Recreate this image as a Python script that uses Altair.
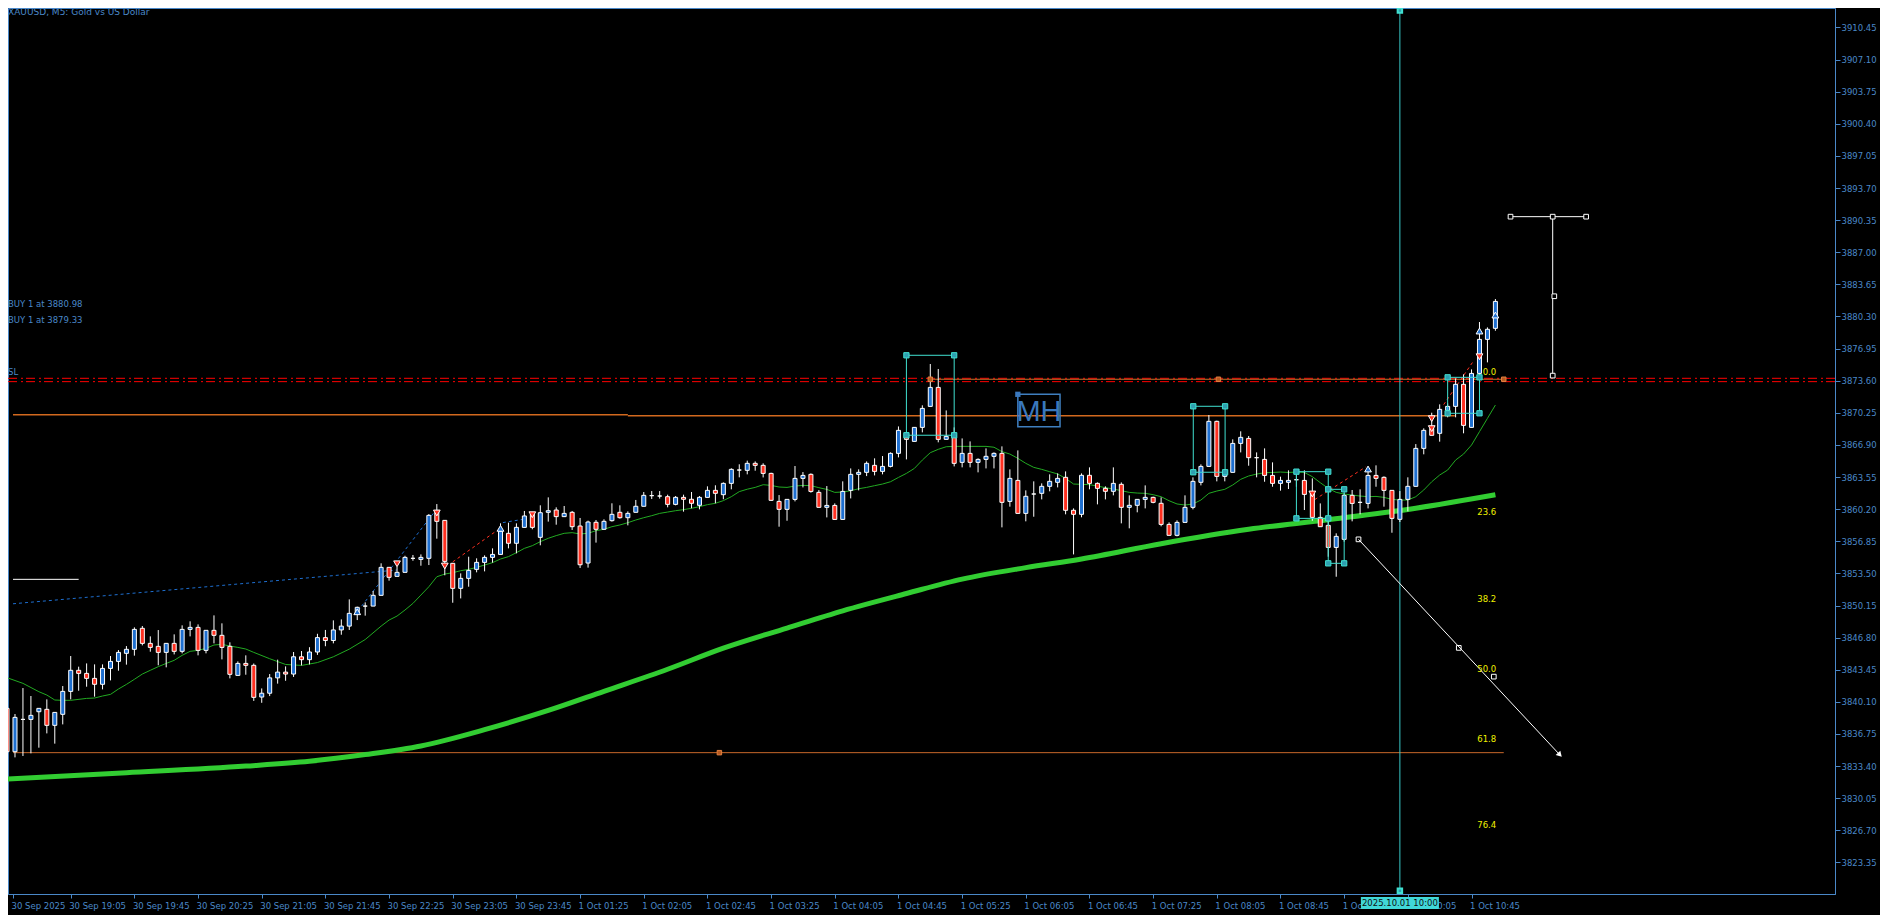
import altair as alt
import pandas as pd

# ---------------- data ----------------
opens = [3839.42,3834.90,3838.27,3838.27,3839.07,3839.32,3837.65,3838.80,3841.19,3843.39,
         3843.07,3842.55,3841.93,3843.59,3844.32,3845.16,3845.58,3847.77,3846.20,3845.89,
         3845.26,3846.20,3845.37,3847.66,3847.87,3845.47,3847.56,3847.04,3845.89,3842.86,
         3844.11,3843.91,3840.60,3841.00,3842.60,3843.20,3843.00,3844.80,3844.50,3845.30,
         3846.80,3846.50,3847.60,3848.00,3849.33,3850.09,3850.09,3851.21,3854.13,3853.19,
         3853.61,3855.07,3854.96,3855.07,3859.97,3859.03,3854.55,3851.94,3852.98,3853.92,
         3854.65,3855.17,3855.48,3857.68,3856.64,3858.30,3859.70,3857.26,3859.87,3860.11,
         3859.42,3859.87,3858.44,3854.58,3858.83,3858.10,3859.00,3859.87,3859.31,3859.87,
         3860.50,3861.61,3861.57,3861.50,3860.70,3861.43,3861.23,3860.60,3861.43,3862.16,
         3861.71,3862.89,3864.28,3864.25,3864.98,3864.77,3863.93,3861.01,3860.18,3861.22,
         3863.41,3863.83,3861.95,3860.39,3860.59,3859.13,3862.16,3863.83,3864.04,3864.77,
         3864.14,3864.66,3866.02,3868.10,3867.27,3868.73,3870.92,3872.90,3867.48,3867.90,
         3865.08,3866.02,3865.08,3865.39,3865.71,3866.02,3861.01,3863.20,3859.76,3861.78,
         3861.85,3862.58,3863.00,3863.52,3860.08,3859.66,3863.73,3862.89,3862.37,3862.06,
         3862.79,3860.39,3860.60,3861.22,3861.43,3860.81,3858.61,3857.47,3858.82,3860.39,
         3863.00,3864.66,3869.36,3863.62,3864.04,3867.06,3867.58,3865.57,3865.39,3863.72,
         3862.89,3863.00,3863.27,3863.20,3861.85,3859.34,3858.51,3856.21,3857.05,3861.64,
         3860.91,3860.80,3863.72,3863.52,3862.16,3859.14,3861.22,3862.58,3866.54,3868.63,
         3868.11,3870.50,3870.92,3873.22,3868.73,3874.36,3877.91,3879.06]
highs = [3839.60,3838.83,3841.54,3840.71,3839.42,3840.36,3839.00,3841.75,3844.88,3843.77,
         3844.11,3844.01,3844.01,3844.88,3845.50,3845.92,3847.87,3848.01,3846.93,3847.59,
         3846.20,3847.14,3848.08,3848.50,3848.18,3847.56,3849.12,3848.29,3846.31,3844.32,
         3844.95,3844.10,3841.50,3843.00,3844.50,3843.80,3845.30,3845.40,3845.80,3847.20,
         3847.60,3848.60,3848.70,3850.79,3850.03,3850.48,3851.66,3854.55,3854.13,3854.20,
         3855.34,3855.42,3855.48,3859.69,3860.73,3859.03,3854.55,3853.50,3855.24,3855.07,
         3855.38,3856.11,3858.72,3858.79,3858.72,3860.01,3859.90,3860.60,3861.43,3860.39,
         3860.53,3860.01,3859.28,3859.00,3859.07,3859.14,3860.81,3860.60,3859.97,3861.16,
         3861.99,3862.09,3862.09,3861.71,3861.57,3861.71,3861.99,3861.57,3862.58,3862.69,
         3862.99,3864.46,3864.88,3865.26,3865.18,3864.98,3864.00,3861.67,3861.22,3864.70,
         3864.07,3863.93,3862.19,3862.61,3860.80,3863.10,3864.45,3864.35,3865.18,3865.50,
         3865.74,3866.12,3868.83,3868.17,3868.73,3871.03,3875.34,3874.82,3870.50,3868.73,
         3867.58,3867.27,3865.50,3866.54,3866.12,3866.75,3864.35,3866.33,3862.16,3863.10,
         3862.89,3863.83,3863.93,3864.14,3860.28,3863.93,3864.56,3862.99,3862.58,3864.56,
         3862.99,3861.64,3861.22,3862.68,3861.50,3861.43,3858.82,3859.03,3861.64,3863.52,
         3864.87,3870.02,3869.43,3864.35,3867.48,3868.32,3867.83,3866.12,3866.54,3865.08,
         3863.59,3864.25,3863.76,3864.25,3863.41,3860.80,3858.93,3857.68,3861.85,3862.20,
         3862.27,3864.28,3864.77,3863.62,3862.16,3862.09,3863.52,3866.99,3868.63,3870.26,
         3871.13,3871.23,3873.84,3874.26,3874.78,3879.72,3879.16,3882.12]
lows = [3834.70,3834.31,3834.45,3834.73,3835.32,3836.81,3835.74,3837.75,3840.36,3841.26,
        3841.68,3840.64,3841.40,3842.34,3843.35,3843.98,3844.92,3845.99,3845.33,3843.91,
        3843.70,3845.05,3845.16,3846.93,3844.95,3845.16,3846.20,3844.53,3842.55,3842.86,
        3842.93,3840.20,3840.00,3840.70,3842.00,3842.30,3842.70,3843.90,3844.00,3845.00,
        3845.90,3846.20,3847.10,3847.60,3848.63,3849.09,3850.09,3851.21,3852.74,3853.19,
        3853.61,3854.82,3854.30,3854.37,3857.12,3853.30,3850.44,3850.89,3852.11,3853.61,
        3853.71,3854.62,3855.48,3856.11,3855.59,3858.30,3858.10,3856.43,3858.90,3858.58,
        3859.42,3858.03,3854.06,3854.10,3856.71,3858.03,3858.90,3859.21,3858.51,3859.87,
        3860.50,3861.26,3861.30,3860.39,3860.60,3859.94,3860.29,3860.18,3861.43,3860.81,
        3861.23,3862.27,3863.52,3863.83,3864.21,3863.51,3861.05,3858.37,3858.99,3861.01,
        3862.47,3861.92,3860.39,3859.34,3859.13,3859.13,3861.32,3862.16,3863.65,3863.72,
        3863.83,3864.56,3865.60,3865.39,3867.27,3868.21,3870.92,3867.17,3867.48,3864.66,
        3864.56,3864.56,3864.04,3864.45,3864.45,3858.30,3860.46,3859.76,3858.93,3859.41,
        3861.22,3862.06,3862.47,3859.66,3855.48,3859.35,3862.27,3860.70,3861.22,3861.64,
        3858.72,3858.20,3859.87,3860.28,3860.81,3858.41,3857.47,3857.36,3858.82,3860.18,
        3862.68,3864.66,3863.10,3863.10,3864.04,3866.12,3864.73,3863.52,3863.06,3862.54,
        3862.13,3862.30,3862.54,3860.11,3858.99,3858.37,3855.24,3853.15,3856.81,3858.93,
        3859.66,3860.28,3862.54,3860.46,3857.74,3858.86,3859.97,3862.58,3865.92,3867.90,
        3867.24,3869.78,3869.78,3868.11,3868.73,3874.19,3875.51,3878.81]
closes = [3834.90,3838.48,3838.27,3838.69,3839.42,3837.65,3839.00,3841.19,3843.39,3843.07,
          3842.55,3841.93,3843.59,3844.32,3845.26,3845.58,3847.66,3846.20,3845.78,3845.26,
          3846.20,3845.37,3847.66,3847.87,3845.47,3847.56,3847.04,3845.78,3842.97,3844.11,
          3843.91,3840.57,3841.00,3842.60,3843.20,3843.00,3844.80,3844.50,3845.30,3846.80,
          3846.50,3847.60,3848.00,3849.33,3849.96,3850.09,3851.21,3854.13,3853.09,3853.61,
          3855.17,3855.07,3855.17,3859.55,3858.93,3854.75,3851.94,3852.98,3853.81,3854.65,
          3855.17,3855.48,3857.90,3856.64,3858.30,3859.49,3858.30,3859.83,3860.04,3859.42,
          3859.76,3858.37,3854.40,3858.86,3858.10,3858.93,3859.66,3859.31,3859.76,3860.50,
          3861.64,3861.61,3861.57,3860.70,3861.43,3861.23,3860.81,3861.43,3862.16,3861.85,
          3862.89,3864.35,3864.28,3864.98,3864.77,3863.93,3861.12,3860.18,3861.22,3863.41,
          3863.72,3862.05,3860.39,3860.59,3859.13,3862.05,3863.83,3864.04,3864.98,3864.14,
          3864.66,3866.02,3868.42,3867.48,3868.73,3870.71,3872.90,3867.48,3867.79,3864.98,
          3866.02,3865.08,3865.39,3865.71,3866.02,3860.91,3863.41,3859.76,3861.54,3861.78,
          3862.58,3863.10,3863.41,3860.08,3859.66,3863.73,3862.89,3862.37,3862.06,3862.89,
          3860.39,3860.60,3861.22,3861.43,3860.91,3858.61,3857.47,3858.82,3860.39,3863.10,
          3864.66,3869.36,3863.62,3864.04,3867.06,3867.69,3865.57,3865.57,3863.72,3862.89,
          3863.20,3863.20,3863.27,3861.74,3859.34,3858.37,3856.21,3857.36,3861.64,3860.80,
          3860.91,3863.72,3863.41,3862.16,3859.24,3861.22,3862.58,3866.54,3868.42,3867.90,
          3870.61,3870.92,3873.22,3868.94,3874.36,3877.91,3878.96,3881.87]

# time labels, one every 8 bars
time_labels = ["30 Sep 2025", "30 Sep 19:05", "30 Sep 19:45", "30 Sep 20:25", "30 Sep 21:05",
               "30 Sep 21:45", "30 Sep 22:25", "30 Sep 23:05", "30 Sep 23:45", "1 Oct 01:25",
               "1 Oct 02:05", "1 Oct 02:45", "1 Oct 03:25", "1 Oct 04:05", "1 Oct 04:45",
               "1 Oct 05:25", "1 Oct 06:05", "1 Oct 06:45", "1 Oct 07:25", "1 Oct 08:05",
               "1 Oct 08:45", "1 Oct 09:25", "1 Oct 10:05", "1 Oct 10:45"]

price_ticks = [3823.35, 3826.70, 3830.05, 3833.40, 3836.75, 3840.10, 3843.45, 3846.80,
               3850.15, 3853.50, 3856.85, 3860.20, 3863.55, 3866.90, 3870.25, 3873.60,
               3876.95, 3880.30, 3883.65, 3887.00, 3890.35, 3893.70, 3897.05, 3900.40,
               3903.75, 3907.10, 3910.45]

# fast moving average (thin green)
ma_fast_idx = [0,2,4,5,6,7,8,10,11,12,13,14,15,16,17,18,19,20,21,22,23,24,25,26,27,28,29,30,31,
               33,35,37,39,41,43,45,47] + list(range(48, 188))
ma_fast_val = [3842.62,3842.03,3841.16,3840.81,3840.29,3840.26,3840.26,3840.46,3840.50,3840.71,
               3840.88,3841.44,3841.92,3842.45,3843.00,3843.39,3843.77,3844.11,3844.43,3844.95,
               3845.37,3845.47,3845.68,3846.03,3846.10,3845.92,3845.78,3845.61,3845.26,
               3844.60,3844.00,3843.90,3844.20,3844.80,3845.60,3846.60,3848.00,
               3848.63,3849.05,3849.68,3850.37,3851.24,3852.11,3853.15,3853.43,3853.57,3853.78,
               3853.92,3854.13,3854.37,3854.62,3855.00,3855.25,3855.66,3856.11,3856.39,3856.81,
               3857.16,3857.44,3857.68,3857.75,3857.61,3857.68,3857.96,3858.10,3858.37,3858.55,
               3858.79,3859.07,3859.31,3859.52,3859.76,3859.90,3860.04,3860.15,3860.29,3860.46,
               3860.67,3860.81,3861.09,3861.50,3862.03,3862.28,3862.47,3862.75,3862.68,3862.51,
               3862.47,3862.61,3862.68,3862.65,3862.44,3862.26,3861.95,3861.99,3862.12,3862.33,
               3862.47,3862.65,3862.82,3863.06,3863.51,3863.93,3864.45,3865.32,3866.09,3866.44,
               3866.71,3866.75,3866.75,3866.75,3866.75,3866.75,3866.66,3866.20,3865.95,3865.50,
               3864.98,3864.56,3864.35,3864.11,3863.87,3863.41,3862.82,3862.79,3862.75,3862.61,
               3862.44,3862.30,3862.13,3861.95,3861.88,3861.85,3861.71,3861.50,3861.08,3860.74,
               3860.63,3860.74,3861.15,3861.85,3862.09,3862.27,3862.72,3863.31,3863.66,3863.86,
               3864.00,3864.03,3864.07,3864.03,3864.07,3864.03,3863.59,3862.96,3862.37,3861.95,
               3861.78,3861.67,3861.57,3861.50,3861.53,3861.43,3861.22,3861.15,3861.15,3861.50,
               3862.20,3863.06,3863.76,3864.28,3865.32,3865.95,3866.89,3868.28,3869.67,3871.06]

# slow moving average (thick green)
ma_slow_idx = [0, 15, 30, 38, 45, 52, 60, 68, 75, 83, 90, 98, 105, 113, 120, 128, 135, 145,
               156, 166, 177, 187]
ma_slow_val = [3832.05, 3832.70, 3833.40, 3833.90, 3834.60, 3835.50, 3837.20, 3839.20, 3841.20,
               3843.50, 3845.70, 3847.80, 3849.60, 3851.40, 3852.90, 3854.10, 3855.00, 3856.60,
               3858.10, 3859.10, 3860.30, 3861.70]

# horizontal levels
sl_levels = [3873.85, 3873.50]
orange_seg_i0 = [0.75, 78.0]
orange_seg_i1 = [78.0, 181.9]
orange_seg_p = [3870.05, 3869.95]
lower_line = {"i0": 0.75, "i1": 188.05, "p": 3834.80, "handle_i": 89.5}
white_short = {"i0": 0.75, "i1": 9.0, "p": 3852.88}

# fibonacci
fib_i0, fib_i1 = 116.0, 188.05
fib_zero, fib_hundred = 3873.75, 3811.89
fib_levels = [0.0, 23.6, 38.2, 50.0, 61.8, 76.4]
fib_texts = ["0.0", "23.6", "38.2", "50.0", "61.8", "76.4"]
fib_label_i = 187.1

# trade history lines (dotted)
trade_i0 = [0.75, 44.1, 56.0, 62.3, 164.3, 180.5]
trade_p0 = [3850.33, 3849.60, 3854.70, 3858.80, 3861.20, 3871.10]
trade_i1 = [49.0, 53.6, 61.6, 65.3, 170.7, 184.2]
trade_p1 = [3853.85, 3859.80, 3858.00, 3859.20, 3864.60, 3875.60]
trade_kind = ["buy", "buy", "sell", "buy", "sell", "sell"]

# trade arrows
arrow_i = [44, 49, 54, 55, 62, 66, 164, 171, 179, 179, 185, 185, 187]
arrow_p = [3849.50, 3854.50, 3859.80, 3854.27, 3858.20, 3859.62, 3861.78, 3864.39, 3869.64,
           3868.60, 3878.78, 3876.10, 3880.45]
arrow_kind = ["buy", "sell", "sell", "sell", "buy", "sell", "sell", "buy", "sell", "sell",
              "buy", "sell", "buy"]

# cyan rectangles
rect_i0 = [113.0, 149.04, 162.0, 166.0, 181.0]
rect_i1 = [119.0, 153.04, 166.0, 168.0, 185.0]
rect_p0 = [3876.25, 3870.93, 3864.11, 3862.27, 3873.95]
rect_p1 = [3867.91, 3864.05, 3859.24, 3854.55, 3870.20]

# "MH" label box
mh_box = {"i0": 127.0, "i1": 132.3, "p0": 3872.18, "p1": 3868.80}

# white arrow tool
warrow = {"i0": 169.8, "p0": 3857.05, "i1": 195.1, "p1": 3834.57}
warrow_handles_i = [169.8, 182.4, 186.8]
warrow_handles_p = [3857.05, 3845.73, 3842.73]

# white price-range tool
wtool = {"i": 194.2, "p_top": 3890.71, "p_bot": 3874.13, "i_left": 188.9, "i_right": 198.4}
wtool_handles_i = [188.9, 194.2, 198.4, 194.4, 194.2]
wtool_handles_p = [3890.71, 3890.71, 3890.71, 3882.41, 3874.13]

cursor_i = 175
cursor_text = "2025.10.01 10:00"

buy_texts = ["BUY 1 at 3880.98", "BUY 1 at 3879.33", "SL"]
buy_prices = [3880.98, 3879.33, 3873.85]

# ---------------- styling ----------------
AXIS_BLUE = "#4a88c8"
BULL = "#4682b4"
BEAR = "#ff4500"
CYAN = "#40e0d0"
ORANGE = "#d2691e"
FONT = "DejaVu Sans"
FS = 8.5

W, H = 1827, 886
X0, X1 = 0.7497, 229.04
Y0, Y1 = 3820.057, 3912.476

XS = alt.Scale(domain=[X0, X1], nice=False, zero=False)
YS = alt.Scale(domain=[Y0, Y1], nice=False, zero=False)

label_js = "[" + ",".join("'%s'" % s for s in time_labels) + "][round(datum.value/8)]"
x_ticks = [X0] + [8 * k for k in range(1, len(time_labels))]

xaxis = alt.Axis(values=x_ticks, labelExpr=label_js, labelAlign="left", labelPadding=3,
                 tickSize=4, labelOverlap=False, labelFlush=False, grid=False,
                 labelFont=FONT, labelFontSize=FS, labelColor=AXIS_BLUE, labelOffset=-2,
                 tickColor=AXIS_BLUE, domainColor=AXIS_BLUE, labelBaseline="top")
yaxis = alt.Axis(orient="right", values=price_ticks, format=".2f", labelPadding=1,
                 tickSize=5, labelOverlap=False, labelFlush=False, grid=False,
                 labelFont=FONT, labelFontSize=FS, labelColor=AXIS_BLUE,
                 tickColor=AXIS_BLUE, domainColor=AXIS_BLUE)


def X(f):
    return alt.X(f, type="quantitative", scale=XS, axis=xaxis, title=None)


def Y(f):
    return alt.Y(f, type="quantitative", scale=YS, axis=yaxis, title=None)


# ---------------- frames ----------------
n = len(opens)
candles = pd.DataFrame({
    "i": list(range(n)), "o": opens, "h": highs, "l": lows, "c": closes,
})
candles["lo"] = candles[["o", "c"]].min(axis=1)
candles["hi"] = candles[["o", "c"]].max(axis=1)
candles["dir"] = ["bull" if c >= o else "bear" for o, c in zip(opens, closes)]

fast = pd.DataFrame({"i": ma_fast_idx, "v": ma_fast_val})
slow = pd.DataFrame({"i": ma_slow_idx, "v": ma_slow_val})

layers = []

# lower brown line and orange level
lower_df = pd.DataFrame([lower_line])
layers.append(alt.Chart(lower_df).mark_rule(color="#c8682a", strokeWidth=1).encode(
    x=X("i0"), x2="i1", y=Y("p")))
orange_df = pd.DataFrame({"i0": orange_seg_i0, "i1": orange_seg_i1, "p": orange_seg_p})
layers.append(alt.Chart(orange_df).mark_rule(color=ORANGE, strokeWidth=1.6).encode(
    x=X("i0"), x2="i1", y=Y("p")))
white_df = pd.DataFrame([white_short])
layers.append(alt.Chart(white_df).mark_rule(color="white", strokeWidth=1).encode(
    x=X("i0"), x2="i1", y=Y("p")))

# SL dash-dot lines
sl_df = pd.DataFrame({"p": sl_levels})
layers.append(alt.Chart(sl_df).mark_rule(color="#ff0000", strokeWidth=1,
                                         strokeDash=[9, 3, 2, 4]).encode(y=Y("p")))

# fib zero line
fib_df = pd.DataFrame({"i0": [fib_i0], "i1": [fib_i1], "p": [fib_zero]})
layers.append(alt.Chart(fib_df).mark_rule(color="#d0702a", strokeWidth=1).encode(
    x=X("i0"), x2="i1", y=Y("p")))

# trade lines
trade_df = pd.DataFrame({"i0": trade_i0, "p0": trade_p0, "i1": trade_i1, "p1": trade_p1,
                         "k": trade_kind})
layers.append(alt.Chart(trade_df).mark_rule(strokeWidth=1, strokeDash=[3, 3]).encode(
    x=X("i0"), y=Y("p0"), x2="i1", y2="p1",
    color=alt.Color("k:N", scale=alt.Scale(domain=["buy", "sell"], range=["#1e6fd0", "#ff3020"]),
                    legend=None)))

# moving averages
layers.append(alt.Chart(slow).mark_line(color="#32cd32", strokeWidth=5, interpolate="monotone").encode(
    x=X("i"), y=Y("v")))
layers.append(alt.Chart(fast).mark_line(color="#22aa22", strokeWidth=1).encode(
    x=X("i"), y=Y("v")))

# cursor line
cur_df = pd.DataFrame({"i": [cursor_i]})
layers.append(alt.Chart(cur_df).mark_rule(color="#38c8c8", strokeWidth=1).encode(x=X("i")))

# candles
layers.append(alt.Chart(candles).mark_rule(color="white", strokeWidth=1).encode(
    x=X("i"), y=Y("l"), y2="h"))
layers.append(alt.Chart(candles).mark_bar(width=4, stroke="white", strokeWidth=1).encode(
    x=X("i"), y=Y("lo"), y2="hi",
    color=alt.Color("dir:N", scale=alt.Scale(domain=["bull", "bear"], range=[BULL, BEAR]),
                    legend=None)))

# cyan rectangles
rect_df = pd.DataFrame({"i0": rect_i0, "i1": rect_i1, "p0": rect_p0, "p1": rect_p1})
layers.append(alt.Chart(rect_df).mark_rect(fill=None, stroke=CYAN, strokeWidth=1).encode(
    x=X("i0"), x2="i1", y=Y("p0"), y2="p1"))
corners = pd.DataFrame({
    "i": rect_i0 + rect_i1 + rect_i0 + rect_i1,
    "p": rect_p0 + rect_p0 + rect_p1 + rect_p1,
})
layers.append(alt.Chart(corners).mark_point(shape="square", size=28, filled=True,
                                            fill="#2f9fb0", stroke=CYAN, strokeWidth=1,
                                            opacity=1).encode(x=X("i"), y=Y("p")))

# arrows
arr_df = pd.DataFrame({"i": arrow_i, "p": arrow_p, "k": arrow_kind})
layers.append(alt.Chart(arr_df).mark_point(filled=True, size=45, stroke="white", strokeWidth=1,
                                           opacity=1).encode(
    x=X("i"), y=Y("p"),
    shape=alt.Shape("k:N", scale=alt.Scale(domain=["buy", "sell"],
                                           range=["triangle-up", "triangle-down"]), legend=None),
    fill=alt.Fill("k:N", scale=alt.Scale(domain=["buy", "sell"], range=["#1e6fd0", "#ff3020"]),
                  legend=None)))

# handles on horizontal lines
hand_df = pd.DataFrame({"i": [lower_line["handle_i"], fib_i0, 152.2, fib_i1],
                        "p": [lower_line["p"], fib_zero, fib_zero, fib_zero]})
layers.append(alt.Chart(hand_df).mark_point(shape="square", size=20, filled=True, fill="#b85a20",
                                            stroke="#e08040", strokeWidth=1, opacity=1).encode(
    x=X("i"), y=Y("p")))

# MH box
mh_df = pd.DataFrame([mh_box])
mh_df["im"] = (mh_df["i0"] + mh_df["i1"]) / 2
mh_df["pm"] = (mh_df["p0"] + mh_df["p1"]) / 2
mh_df["t"] = "MH"
layers.append(alt.Chart(mh_df).mark_rect(fill=None, stroke="#3f7fbf", strokeWidth=1.5).encode(
    x=X("i0"), x2="i1", y=Y("p0"), y2="p1"))
layers.append(alt.Chart(mh_df).mark_text(font="Liberation Sans", fontSize=29, color="#3a78bd",
                                         baseline="middle", align="center", dy=1).encode(
    x=X("im"), y=Y("pm"), text="t:N"))
layers.append(alt.Chart(mh_df).mark_point(shape="square", size=28, filled=True, fill="#3a78bd",
                                          opacity=1).encode(x=X("i0"), y=Y("p0")))

# white arrow tool
wa_df = pd.DataFrame([warrow])
layers.append(alt.Chart(wa_df).mark_rule(color="white", strokeWidth=1).encode(
    x=X("i0"), y=Y("p0"), x2="i1", y2="p1"))
layers.append(alt.Chart(wa_df).mark_point(shape="triangle-up", angle=137, size=40, filled=True,
                                          color="white", opacity=1).encode(x=X("i1"), y=Y("p1")))
wah_df = pd.DataFrame({"i": warrow_handles_i, "p": warrow_handles_p})
layers.append(alt.Chart(wah_df).mark_point(shape="square", size=22, filled=False, color="white",
                                           strokeWidth=1, opacity=1).encode(x=X("i"), y=Y("p")))

# white price tool
wt_df = pd.DataFrame([wtool])
layers.append(alt.Chart(wt_df).mark_rule(color="white", strokeWidth=1).encode(
    x=X("i"), y=Y("p_bot"), y2="p_top"))
layers.append(alt.Chart(wt_df).mark_rule(color="white", strokeWidth=1).encode(
    x=X("i_left"), x2="i_right", y=Y("p_top")))
wth_df = pd.DataFrame({"i": wtool_handles_i, "p": wtool_handles_p})
layers.append(alt.Chart(wth_df).mark_point(shape="square", size=22, filled=True, fill="black",
                                           stroke="white", strokeWidth=1, opacity=1).encode(
    x=X("i"), y=Y("p")))

# fib labels
fib_lab = pd.DataFrame({"t": fib_texts,
                        "p": [fib_zero - lv / 100.0 * (fib_zero - fib_hundred) for lv in fib_levels],
                        "i": [fib_label_i] * len(fib_levels)})
layers.append(alt.Chart(fib_lab).mark_text(font=FONT, fontSize=FS, color="#f0f000",
                                           align="right", baseline="bottom", dy=-2).encode(
    x=X("i"), y=Y("p"), text="t:N"))

# buy / SL texts
bt_df = pd.DataFrame({"t": buy_texts, "p": buy_prices})
layers.append(alt.Chart(bt_df).mark_text(font=FONT, fontSize=FS, color=AXIS_BLUE,
                                         align="left", baseline="bottom", dy=-1).encode(
    x=alt.value(0), y=Y("p"), text="t:N"))

# title text
title_df = pd.DataFrame({"t": ["XAUUSD, M5:  Gold vs US Dollar"]})
layers.append(alt.Chart(title_df).mark_text(font=FONT, fontSize=9, color=AXIS_BLUE,
                                            align="left", baseline="top").encode(
    x=alt.value(0), y=alt.value(0), text="t:N"))

# cursor label on the time axis
cl_df = pd.DataFrame({"i": [cursor_i], "t": [cursor_text]})
layers.append(alt.Chart(cl_df).mark_bar(width=78, color="#40d8d8").encode(
    x=X("i"), y=alt.value(H + 3), y2=alt.value(H + 15)))
layers.append(alt.Chart(cl_df).mark_text(font=FONT, fontSize=FS, color="#101010",
                                         align="center", baseline="middle").encode(
    x=X("i"), y=alt.value(H + 9), text="t:N"))
hc_df = pd.DataFrame({"i": [cursor_i, cursor_i], "p": [Y1 - 0.25, Y0 + 0.35]})
layers.append(alt.Chart(hc_df).mark_point(shape="square", size=20, filled=True, fill="#2f9fb0",
                                          stroke=CYAN, opacity=1).encode(x=X("i"), y=Y("p")))

chart = alt.layer(*layers).properties(
    width=W, height=H,
    autosize=alt.AutoSizeParams(type="none"),
    padding={"left": 0, "top": 0, "right": 45, "bottom": 21},
    background="black",
).configure_view(stroke=AXIS_BLUE, strokeWidth=1, fill="black")

chart.save("out.html", embed_options={"renderer": "svg", "actions": False})
